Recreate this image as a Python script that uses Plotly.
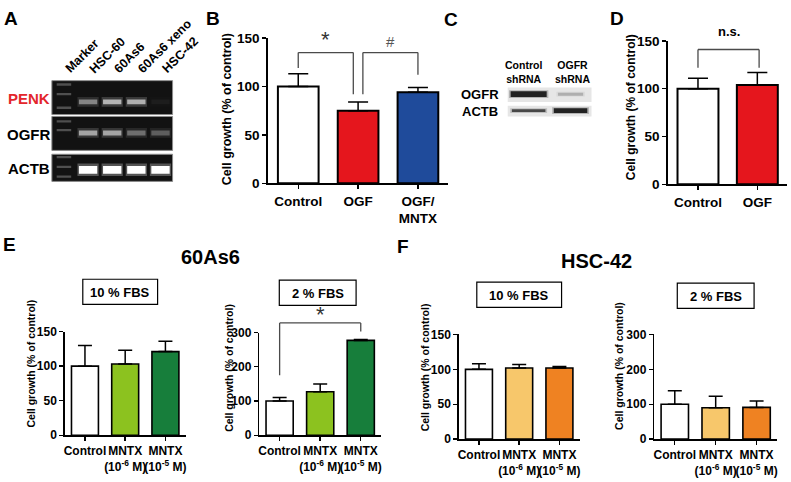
import plotly.graph_objects as go

W, H = 791, 482
FONT = "Liberation Sans, Arial, sans-serif"

# ---------------- data ----------------
gel_lanes = ["Marker", "HSC-60", "60As6", "60As6 xeno", "HSC-42"]
gel_genes = ["PENK", "OGFR", "ACTB"]
gel_penk = [0.0, 0.42, 0.62, 0.60, 0.04]
gel_ogfr = [0.0, 0.55, 0.55, 0.33, 0.27]
gel_actb = [0.0, 1.0, 1.0, 1.0, 1.0]
ladder_level = 0.26

blot_lanes = ["Control<br>shRNA", "OGFR<br>shRNA"]
blot_genes = ["OGFR", "ACTB"]
blot_ogfr = [0.95, 0.22]
blot_actb = [0.72, 0.95]

b_cats = ["Control", "OGF", "OGF/<br>MNTX"]
b_vals = [100, 75, 94]
b_err = [13, 9, 5]

d_cats = ["Control", "OGF"]
d_vals = [100, 104]
d_err = [11, 13]

mntx_cats = ["Control", "MNTX<br>(10<sup>-6</sup> M)", "MNTX<br>(10<sup>-5</sup> M)"]
e10_vals = [100, 103, 121]
e10_err = [30, 20, 15]
e2_vals = [100, 127, 277]
e2_err = [10, 23, 3]
f10_vals = [100, 102, 102]
f10_err = [8, 5, 2]
f2_vals = [100, 90, 91]
f2_err = [39, 33, 18]

y150_ticks = [0, 50, 100, 150]
y300_ticks = [0, 100, 200, 300]

# ---------------- helpers ----------------
def PX(x):
    return x / W

def PY(y):
    return 1 - y / H

def bfont(size, color="black", weight="bold"):
    return dict(family=FONT, size=size, color=color, weight=weight)

fig = go.Figure()
layout = dict(width=W, height=H, margin=dict(l=0, r=0, t=0, b=0),
              paper_bgcolor="white", plot_bgcolor="white", showlegend=False,
              font=bfont(12))
shapes = []
annots = []

def text(x, y, s, size, color="black", weight="bold", xanchor="center",
         yanchor="middle", angle=0, xref="paper", yref="paper"):
    annots.append(dict(x=x, y=y, xref=xref, yref=yref, text=s, showarrow=False,
                       font=bfont(size, color, weight), xanchor=xanchor,
                       yanchor=yanchor, textangle=angle))

WHITE, RED, BLUE = "#ffffff", "#e5161d", "#1f4b9b"
LGREEN, DGREEN = "#8cc21f", "#177e3b"
LORANGE, ORANGE = "#f7c76b", "#ef8222"

panels = [
    dict(id="", xd=(268, 448), yd=(32, 182), ymax=150, yt=y150_ticks, cats=b_cats,
         vals=b_vals, err=b_err, cols=[WHITE, RED, BLUE], bw=0.68, fs=13.5, lw=2,
         title=(226, 105, 12.5)),
    dict(id="2", xd=(669, 788), yd=(35, 183), ymax=150, yt=y150_ticks, cats=d_cats,
         vals=d_vals, err=d_err, cols=[WHITE, RED], bw=0.69, fs=13.5, lw=2,
         title=(631, 103, 12)),
    dict(id="3", xd=(64, 185), yd=(335, 442), ymax=150, yt=y150_ticks, cats=mntx_cats,
         vals=e10_vals, err=e10_err, cols=[WHITE, LGREEN, DGREEN], bw=0.67, fs=12, lw=1.6,
         title=(30, 368, 10.5)),
    dict(id="4", xd=(259, 381), yd=(336, 442), ymax=300, yt=y300_ticks, cats=mntx_cats,
         vals=e2_vals, err=e2_err, cols=[WHITE, LGREEN, DGREEN], bw=0.67, fs=12, lw=1.6,
         title=(229, 372, 10.5)),
    dict(id="5", xd=(459, 580), yd=(338, 446), ymax=150, yt=y150_ticks, cats=mntx_cats,
         vals=f10_vals, err=f10_err, cols=[WHITE, LORANGE, ORANGE], bw=0.67, fs=12, lw=1.6,
         title=(425, 372, 10.5)),
    dict(id="6", xd=(655, 778), yd=(338, 446), ymax=300, yt=y300_ticks, cats=mntx_cats,
         vals=f2_vals, err=f2_err, cols=[WHITE, LORANGE, ORANGE], bw=0.67, fs=12, lw=1.6,
         title=(620, 370, 10.5)),
]

def yval_to_paper(p, v):
    top, bot = p["yd"]
    return PY(bot) + (PY(top) - PY(bot)) * v / p["ymax"]

for p in panels:
    n = len(p["cats"])
    xs = list(range(n))
    fig.add_trace(go.Bar(
        x=xs, y=p["vals"], width=p["bw"], xaxis="x" + p["id"], yaxis="y" + p["id"],
        marker=dict(color=p["cols"], line=dict(color="black", width=p["lw"])),
        error_y=dict(type="data", array=p["err"], arrayminus=[0] * n, symmetric=False,
                     color="black", thickness=1.5, width=10 if p["lw"] == 2 else 7),
        hoverinfo="skip"))
    xa = dict(domain=[PX(p["xd"][0]), PX(p["xd"][1])], range=[-0.5, n - 0.5],
              anchor="y" + p["id"], showline=True, linecolor="black", linewidth=p["lw"],
              ticks="outside", ticklen=4, tickwidth=1.4, tickcolor="black",
              tickvals=xs, ticktext=p["cats"], tickfont=bfont(p["fs"]), tickangle=0,
              showgrid=False, zeroline=False, fixedrange=True)
    ya = dict(domain=[PY(p["yd"][1]), PY(p["yd"][0])], range=[0, p["ymax"]],
              anchor="x" + p["id"], showline=True, linecolor="black", linewidth=p["lw"],
              ticks="outside", ticklen=4, tickwidth=1.4, tickcolor="black",
              tickvals=p["yt"], tickfont=bfont(p["fs"]),
              showgrid=False, zeroline=False, fixedrange=True)
    layout["xaxis" + p["id"]] = xa
    layout["yaxis" + p["id"]] = ya
    tx, ty, ts = p["title"]
    text(PX(tx), PY(ty), "Cell growth (% of control)", ts, angle=-90)

# ---------------- significance brackets ----------------
GRAY = "#4a4a4a"

def bracket(p, x0, x1, level, left_bottom, right_bottom, width=1.3):
    xr = "x" + p["id"]
    pts = [(x0, left_bottom), (x0, level), (x1, level), (x1, right_bottom)]
    for (a, b), (c, d) in zip(pts[:-1], pts[1:]):
        shapes.append(dict(type="line", xref=xr, yref="paper", x0=a, x1=c,
                           y0=yval_to_paper(p, b), y1=yval_to_paper(p, d),
                           line=dict(color=GRAY, width=width)))

pB, pD, pE10, pE2, pF10, pF2 = panels
bracket(pB, 0, 0.92, 135, 119, 92)
bracket(pB, 1.08, 2.0, 135, 92, 112)
text(0.46, yval_to_paper(pB, 148), "*", 22, color="#333", weight="normal", xref="x")
text(1.54, yval_to_paper(pB, 146), "#", 15, color="#555", weight="normal", xref="x")

bracket(pD, 0, 1.03, 141, 122, 122)
text(0.52, PY(25), "n.s.", 13, xref="x2")

bracket(pE2, 0, 2, 328, 175, 303)
text(1.0, PY(317), "*", 22, color="#333", weight="normal", xref="x4")

# ---------------- FBS boxes & group titles ----------------
boxes = [((82, 281, 157, 307), "10 % FBS"), ((279, 282, 356, 308), "2 % FBS"),
         ((477, 284, 562, 310), "10 % FBS"), ((678, 285, 755, 311), "2 % FBS")]
for (x0, y0, x1, y1), s in boxes:
    shapes.append(dict(type="rect", xref="paper", yref="paper", x0=PX(x0), x1=PX(x1),
                       y0=PY(y0), y1=PY(y1), line=dict(color="black", width=1.2)))
    text(PX((x0 + x1) / 2), PY((y0 + y1) / 2 + 0.5), s, 13)

text(PX(210), PY(258), "60As6", 20)
text(PX(597), PY(262), "HSC-42", 20)

# panel letters
for L, x, y in [("A", 10, 12), ("B", 213, 12), ("C", 451, 13), ("D", 618, 12),
                ("E", 9, 245), ("F", 403, 247)]:
    text(PX(x), PY(y), L, 19)

# ---------------- panel A: RT-PCR gel ----------------
layout["xaxis7"] = dict(domain=[PX(51), PX(172)], range=[-0.5, 4.5], visible=False,
                        anchor="y7", fixedrange=True)
layout["yaxis7"] = dict(domain=[PY(180), PY(76)], range=[0, 1], visible=False,
                        anchor="x7", fixedrange=True)
fig.add_trace(go.Scatter(x=[0], y=[0], xaxis="x7", yaxis="y7", mode="markers",
                         marker=dict(opacity=0), hoverinfo="skip"))
strips = [(76, 111, 98, 5, gel_penk, [80, 90, 104]),
          (113, 148, 130, 5, gel_ogfr, [118, 127]),
          (152, 180, 168, 8, gel_actb, [155, 165, 175])]
for (t, b, yc, h, inten, ladder) in strips:
    shapes.append(dict(type="rect", xref="paper", yref="paper", x0=PX(51), x1=PX(172),
                       y0=PY(b), y1=PY(t), fillcolor="#121212",
                       line=dict(color="#8c8c8c", width=1), layer="above"))
    for ly in ladder:
        shapes.append(dict(type="rect", xref="x7", yref="paper", x0=-0.3, x1=0.3,
                           y0=PY(ly + 1.2), y1=PY(ly - 1.2), fillcolor="white",
                           opacity=ladder_level, line=dict(width=0), layer="above"))
    for i, v in enumerate(inten):
        if i == 0 or v <= 0:
            continue
        # glow
        shapes.append(dict(type="rect", xref="x7", yref="paper", x0=i - 0.44, x1=i + 0.44,
                           y0=PY(yc + h / 2 + 2.5), y1=PY(yc - h / 2 - 2.5),
                           fillcolor="white", opacity=0.28 * v, line=dict(width=0),
                           layer="above"))
        shapes.append(dict(type="rect", xref="x7", yref="paper", x0=i - 0.38, x1=i + 0.38,
                           y0=PY(yc + h / 2), y1=PY(yc - h / 2), fillcolor="white",
                           opacity=v, line=dict(width=0), layer="above"))
for g, (t, b, *_), col in zip(gel_genes, strips,
                              ["#e3262b", "black", "black"]):
    text(PX(28), PY((t + b) / 2 + 1), g, 15, color=col)
for i, lane in enumerate(gel_lanes):
    text(i - 0.16, PY(74), lane, 12.5, angle=-45, xanchor="left", yanchor="bottom",
         xref="x7")

# ---------------- panel C: western blot ----------------
layout["xaxis8"] = dict(domain=[PX(508), PX(592)], range=[-0.5, 1.5], visible=False,
                        anchor="y8", fixedrange=True)
layout["yaxis8"] = dict(domain=[PY(113), PY(83)], range=[0, 1], visible=False,
                        anchor="x8", fixedrange=True)
fig.add_trace(go.Scatter(x=[0], y=[0], xaxis="x8", yaxis="y8", mode="markers",
                         marker=dict(opacity=0), hoverinfo="skip"))
bstrips = [(83, 98, 90, [6, 3], blot_ogfr, [0.43, 0.3]),
           (102, 113, 107, [3, 5], blot_actb, [0.4, 0.4])]
for (t, b, yc, hs, inten, hw) in bstrips:
    shapes.append(dict(type="rect", xref="paper", yref="paper", x0=PX(508), x1=PX(592),
                       y0=PY(b), y1=PY(t), fillcolor="#e6e6e6", line=dict(width=0),
                       layer="above"))
    for i, v in enumerate(inten):
        h = hs[i]
        shapes.append(dict(type="rect", xref="x8", yref="paper", x0=i - hw[i] - 0.04,
                           x1=i + hw[i] + 0.04, y0=PY(yc + h / 2 + 1), y1=PY(yc - h / 2 - 1),
                           fillcolor="#333", opacity=0.3 * v, line=dict(width=0),
                           layer="above"))
        shapes.append(dict(type="rect", xref="x8", yref="paper", x0=i - hw[i], x1=i + hw[i],
                           y0=PY(yc + h / 2), y1=PY(yc - h / 2), fillcolor="#1a1a1a",
                           opacity=v, line=dict(width=0), layer="above"))
for g, (t, b, *_) in zip(blot_genes, bstrips):
    text(PX(480), PY((t + b) / 2), g, 13)
for lx, s in zip([524, 573], blot_lanes):
    text(PX(lx), PY(67), s, 10.5)

layout["shapes"] = shapes
layout["annotations"] = annots
fig.update_layout(**layout)
fig.write_html(
    "out.html",
    config={"displayModeBar": False, "staticPlot": True},
    post_script="document.body.style.margin='0';"
                "document.documentElement.style.overflow='hidden';"
                "document.body.style.overflow='hidden';",
)
